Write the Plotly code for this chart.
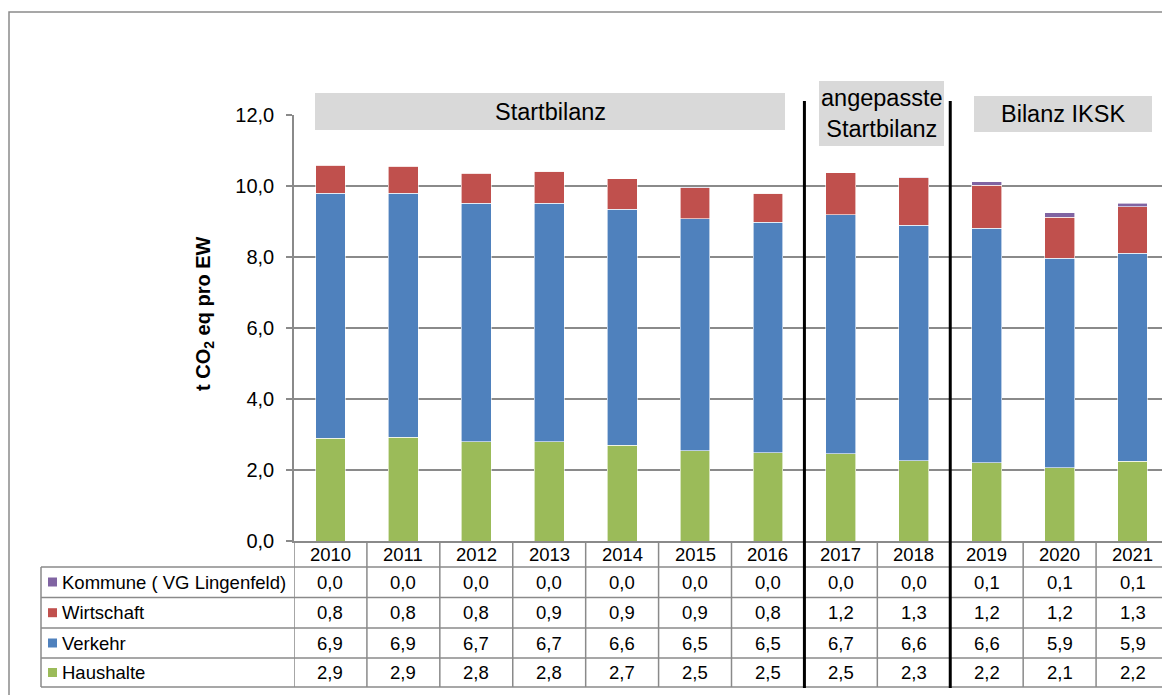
import plotly.graph_objects as go

years = ["2010", "2011", "2012", "2013", "2014", "2015", "2016",
         "2017", "2018", "2019", "2020", "2021"]
haushalte = [2.90, 2.92, 2.79, 2.79, 2.70, 2.54, 2.48, 2.46, 2.26, 2.20, 2.06, 2.24]
verkehr = [6.90, 6.87, 6.73, 6.72, 6.64, 6.54, 6.50, 6.73, 6.63, 6.61, 5.90, 5.87]
wirtschaft = [0.79, 0.77, 0.84, 0.90, 0.86, 0.87, 0.81, 1.18, 1.34, 1.21, 1.16, 1.30]
kommune = [0.01, 0.01, 0.01, 0.01, 0.01, 0.01, 0.01, 0.01, 0.01, 0.10, 0.13, 0.11]

series = [
    ("Haushalte", haushalte, "#9BBB59"),
    ("Verkehr", verkehr, "#4F81BD"),
    ("Wirtschaft", wirtschaft, "#C0504D"),
    ("Kommune ( VG Lingenfeld)", kommune, "#8064A2"),
]
table_rows = ["Kommune ( VG Lingenfeld)", "Wirtschaft", "Verkehr", "Haushalte"]

FONT = "Liberation Sans, Arial, sans-serif"
GRID = "#8a8a8a"

# page body has an 8px margin, so the figure is a bit smaller than the window
OFF = 8
W, H = 1170 - OFF, 695 - OFF
L, R, T, B = 286, 1, 107, 154


def px(x):
    # window pixel -> paper x
    return (x - OFF - L) / (W - L - R)


def py(y):
    # window pixel -> paper y
    return (H - B - (y - OFF)) / (H - T - B)


fig = go.Figure()
for name, vals, col in series:
    fig.add_trace(go.Bar(x=years, y=vals, name=name, width=0.41,
                         marker=dict(color=col, line=dict(color="white", width=0.6))))

shapes = []
annotations = []


def note(x, y, text, xref="paper", size=18.5, xanchor="center", **kw):
    annotations.append(dict(x=x, xref=xref, y=y, yref="paper", text=text,
                            xanchor=xanchor, yanchor="middle", showarrow=False,
                            font=dict(size=size, color="black"), **kw))


# outer frame
shapes.append(dict(type="rect", xref="paper", yref="paper", x0=px(9), x1=px(1185),
                   y0=py(710), y1=py(12), line=dict(color="#8a8a8a", width=1.5)))

# table grid
row_lines = [567, 597.5, 628, 658, 687]
for y in row_lines:
    shapes.append(dict(type="line", xref="paper", yref="paper", x0=px(41), x1=px(1169),
                       y0=py(y), y1=py(y), line=dict(color=GRID, width=1.5)))
for i in range(13):
    shapes.append(dict(type="line", xref="x", yref="paper", x0=i - 0.5, x1=i - 0.5,
                       y0=py(541), y1=py(687), line=dict(color=GRID, width=1.5)))
shapes.append(dict(type="line", xref="paper", yref="paper", x0=px(41), x1=px(41),
                   y0=py(567), y1=py(687), line=dict(color=GRID, width=1.5)))

# header row (years); category axis positions by index
for i, yr in enumerate(years):
    note(i, py(554), yr, xref="x")

# value rows
row_data = {"Kommune ( VG Lingenfeld)": kommune, "Wirtschaft": wirtschaft,
            "Verkehr": verkehr, "Haushalte": haushalte}
row_col = {n: c for n, _, c in series}
row_mid = [582, 612.7, 643, 672.5]
for k, name in enumerate(table_rows):
    yc = row_mid[k]
    shapes.append(dict(type="rect", xref="paper", yref="paper", x0=px(48), x1=px(57),
                       y0=py(yc + 4.5), y1=py(yc - 4.5), fillcolor=row_col[name],
                       line=dict(width=0)))
    note(px(60), py(yc), name, xanchor="left")
    for i, v in enumerate(row_data[name]):
        note(i, py(yc), f"{v:.1f}".replace(".", ","), xref="x")

# period label boxes
boxes = [
    (315, 785, 93, 130, "Startbilanz"),
    (819, 944, 81, 146, "angepasste<br>Startbilanz"),
    (974, 1152, 96, 132, "Bilanz IKSK"),
]
for x0, x1, y0, y1, txt in boxes:
    shapes.append(dict(type="rect", xref="paper", yref="paper", x0=px(x0), x1=px(x1),
                       y0=py(y1), y1=py(y0), fillcolor="#D9D9D9", line=dict(width=0)))
    note(px((x0 + x1) / 2), py((y0 + y1) / 2), txt, size=23.5)

# period separators
for xs in [6.5, 8.5]:
    shapes.append(dict(type="line", xref="x", yref="paper", x0=xs, x1=xs,
                       y0=py(688), y1=py(101), line=dict(color="black", width=3)))

# y axis title
note(px(204), py(314), "<b>t CO<sub>2</sub> eq pro EW</b>", size=20, textangle=-90)

fig.update_layout(
    width=W, height=H,
    margin=dict(l=L, r=R, t=T, b=B),
    barmode="stack",
    showlegend=False,
    separators=",.",
    paper_bgcolor="white",
    plot_bgcolor="white",
    font=dict(family=FONT, color="black"),
    xaxis=dict(type="category", range=[-0.5, 11.5], showticklabels=False,
               showgrid=False, zeroline=False, showline=True, linecolor=GRID,
               linewidth=1.5, ticks=""),
    yaxis=dict(range=[0, 12], dtick=2, tickformat=".1f", showgrid=True,
               gridcolor=GRID, gridwidth=1.5, zeroline=False, showline=True,
               linecolor=GRID, linewidth=1.5, ticks="outside", ticklen=6,
               tickcolor=GRID, tickwidth=1.5, tickfont=dict(size=20, color="black"),
               ticklabelstandoff=8),
    shapes=shapes,
    annotations=annotations,
)

fig.write_html("out.html")
